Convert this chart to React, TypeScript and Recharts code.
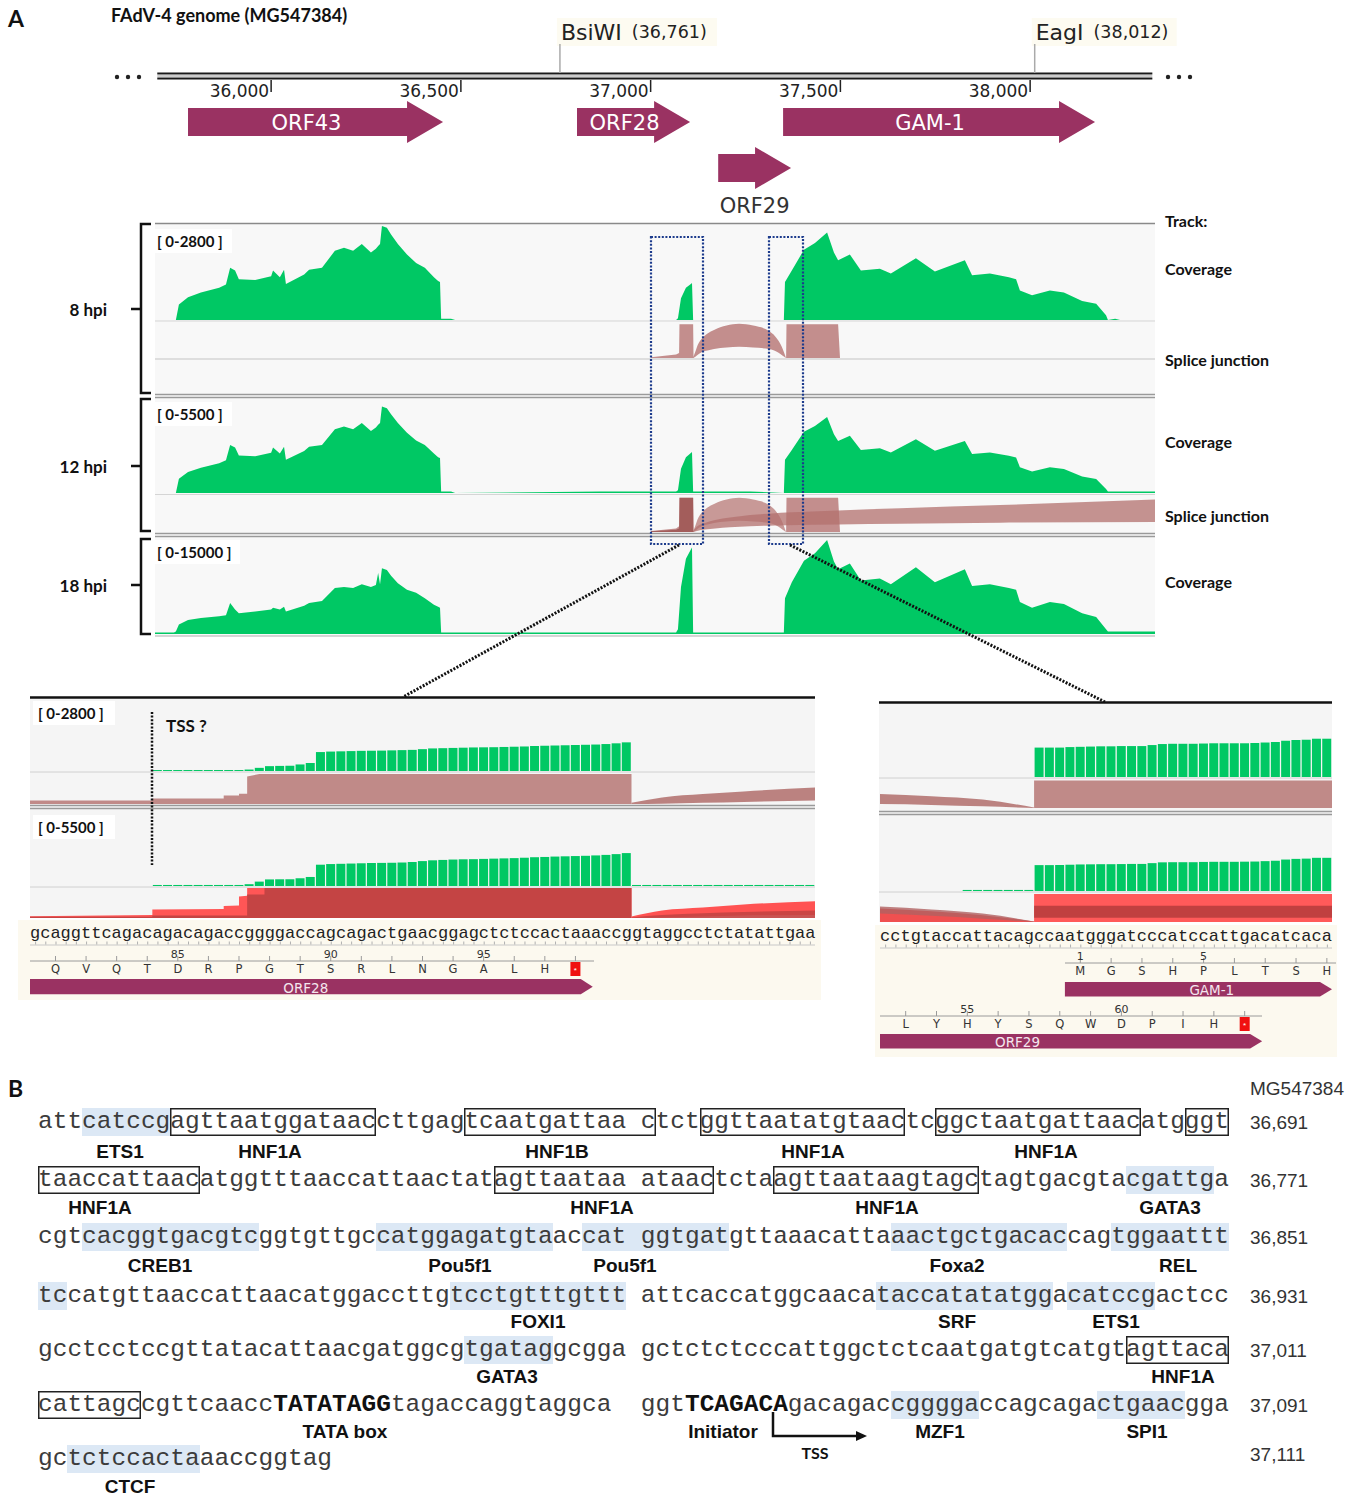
import React from 'react';
import { AreaChart, Area, BarChart, Bar, ComposedChart, XAxis, YAxis } from 'recharts';

const LATO = 'Lato, "Open Sans", sans-serif';
const ARIAL = '"Liberation Sans", Arial, sans-serif';
const VERDANA = '"DejaVu Sans", Verdana, sans-serif';
const MONO = '"Liberation Mono", "Courier New", monospace';
const GREEN = '#00c864';
const ORF_COLOR = '#9a3262';
const SJ_BROWN = '#b3706e';
const HL = '#dce8f5';

// ---------- panel A: genome map ----------
const MAP_DOMAIN: [number, number] = [35694, 38329];
const MAP_TICKS = [36000, 36500, 37000, 37500, 38000];
const SITE_NAMES = ['BsiWI', 'EagI'];
const SITE_POS = [36761, 38012];
const BACKBONE = [35700, 38322];
const MAP_ORF_NAMES = ['ORF43', 'ORF28', 'GAM-1', 'ORF29'];
const MAP_ORF_START = [35781, 36806, 37349, 37178];
const MAP_ORF_END = [36453, 37104, 38171, 37370];
const MAP_ORF_LANE = ['a', 'a', 'a', 'b'];

// coverage (reads) at genome positions, per time point
const COV_POS = [
  35694, 35744, 35749, 35757, 35781, 35815, 35863, 35881, 35892, 35905,
  35915, 35958, 36000, 36005, 36023, 36034, 36039, 36087, 36100, 36134,
  36168, 36192, 36216, 36239, 36263, 36276, 36282, 36287, 36292, 36305,
  36316, 36334, 36358, 36382, 36405, 36429, 36440, 36445, 36448, 36474,
  36485, 36867, 36972, 37067, 37072, 37080, 37093, 37106, 37109, 37112,
  37130, 37262, 37351, 37354, 37372, 37404, 37433, 37465, 37483, 37494,
  37525, 37554, 37604, 37633, 37699, 37749, 37828, 37847, 37894, 37944,
  37963, 37973, 38005, 38052, 38089, 38137, 38174, 38200, 38205, 38224,
  38237, 38329,
];
const COV_8 = [
  0, 0, 0, 460, 670, 810, 950, 1050, 1540, 1460,
  1200, 1180, 1290, 1460, 1260, 1480, 1060, 1340, 1480, 1540,
  2040, 2130, 2040, 2240, 1990, 2100, 2180, 2240, 2770, 2720,
  2520, 2240, 1930, 1680, 1540, 1260, 1150, 1120, 40, 40,
  0, 0, 0, 0, 50, 640, 950, 1060, 1090, 0,
  0, 0, 0, 1120, 1460, 2070, 2270, 2580, 1990, 1760,
  1930, 1460, 1510, 1370, 1820, 1430, 1760, 1320, 1370, 1260,
  1200, 870, 730, 870, 810, 560, 480, 140, 0, 40,
  0, 0,
];
const COV_12 = [
  0, 0, 0, 850, 1240, 1500, 1760, 1940, 2840, 2690,
  2220, 2170, 2380, 2690, 2330, 2740, 1960, 2480, 2740, 2840,
  3770, 3930, 3770, 4140, 3670, 3880, 4030, 4140, 5120, 5010,
  4650, 4140, 3570, 3100, 2840, 2330, 2120, 2070, 90, 90,
  0, 90, 90, 90, 160, 1430, 2110, 2360, 2420, 90,
  90, 90, 0, 1960, 2550, 3620, 3960, 4500, 3480, 3080,
  3380, 2550, 2640, 2400, 3180, 2500, 3080, 2300, 2400, 2200,
  2100, 1520, 1270, 1520, 1420, 980, 830, 240, 90, 90,
  90, 90,
];
const COV_18 = [
  250, 250, 400, 1500, 2250, 2550, 2850, 3000, 4950, 3900,
  3300, 3600, 3900, 4200, 3900, 4350, 3600, 4500, 4950, 5250,
  7350, 7500, 7350, 7950, 7500, 7800, 9750, 7950, 10500, 10200,
  9300, 8100, 7050, 6600, 5700, 4650, 4350, 4200, 250, 250,
  250, 250, 250, 250, 750, 7500, 12000, 13500, 13800, 250,
  250, 250, 250, 5700, 8250, 11700, 12900, 15000, 11550, 10350,
  11250, 8550, 8850, 7950, 10650, 8250, 10350, 7650, 7950, 7350,
  7050, 5100, 4200, 5100, 4800, 3300, 2700, 750, 400, 400,
  400, 400,
];

// splice junction tracks (fraction of track height)
const SJ_POS = [37001, 37067, 37075, 37076, 37112, 37113, 37357, 37358, 37494, 37499];
const SJ_8 = [0.02, 0.1, 0.14, 0.94, 0.94, 0, 0, 0.94, 0.94, 0];
const SJ_12 = [0.03, 0.1, 0.16, 0.95, 0.95, 0, 0, 0.95, 0.95, 0];
const SJ_12_ORF28 = [0.02, 0.06, 0.1, 0.95, 0.95, 0, 0, 0, 0, 0];
const ARC_POS = [37112, 37117, 37125, 37135, 37150, 37167, 37200, 37233, 37270, 37312, 37336, 37348, 37356];
const ARC_LO = [0, 0.03, 0.1, 0.17, 0.21, 0.25, 0.29, 0.31, 0.29, 0.25, 0.15, 0.06, 0];
const ARC_HI = [0.02, 0.15, 0.38, 0.54, 0.68, 0.78, 0.9, 0.95, 0.9, 0.75, 0.49, 0.25, 0.02];
const LONG_POS = [37112, 37122, 37143, 37170, 37209, 37262, 37328, 37357, 37494, 37657, 37921, 38329];
const LONG_LO = [0, 0.03, 0.07, 0.1, 0.13, 0.16, 0.18, 0.19, 0.21, 0.23, 0.26, 0.28];
const LONG_HI = [0.02, 0.15, 0.25, 0.33, 0.4, 0.47, 0.52, 0.54, 0.6, 0.66, 0.75, 0.9];

// ---------- zoomed views (nucleotide index) ----------
const ZL_SEQ = 'gcaggttcagacagacagaccggggaccagcagactgaacggagctctccactaaaccggtaggcctctatattgaa';
const ZR_SEQ = 'cctgtaccattacagccaatgggatcccatccattgacatcaca';
const ZL_COV8 = [
  0, 0, 0, 0, 0, 0, 0, 0, 0, 0,
  0, 0, 40, 40, 40, 40, 40, 40, 40, 40,
  40, 60, 130, 200, 210, 220, 270, 330, 780, 800,
  810, 820, 830, 835, 840, 850, 860, 870, 900, 930,
  940, 950, 960, 970, 975, 980, 990, 1000, 1010, 1030,
  1040, 1050, 1060, 1070, 1080, 1090, 1110, 1140, 1180, 0,
  0, 0, 0, 0, 0, 0, 0, 0, 0, 0,
  0, 0, 0, 0, 0, 0, 0,
];
const ZL_COV12 = [
  0, 0, 0, 0, 0, 0, 0, 0, 0, 0,
  0, 0, 80, 80, 80, 80, 80, 80, 80, 80,
  80, 140, 340, 510, 520, 530, 600, 700, 1650, 1700,
  1720, 1740, 1760, 1780, 1790, 1800, 1820, 1860, 1930, 1990,
  2020, 2050, 2070, 2080, 2100, 2120, 2140, 2160, 2190, 2230,
  2250, 2280, 2300, 2320, 2340, 2370, 2410, 2470, 2550, 80,
  80, 80, 80, 80, 80, 80, 80, 80, 80, 80,
  80, 80, 80, 80, 80, 80, 80,
];
const ZR_COV8 = [
  0, 0, 0, 0, 0, 0, 0, 0, 0, 0,
  0, 0, 0, 0, 0, 1160, 1160, 1160, 1180, 1190,
  1200, 1210, 1210, 1220, 1220, 1220, 1260, 1300, 1310, 1310,
  1310, 1320, 1330, 1330, 1330, 1330, 1340, 1360, 1380, 1430,
  1460, 1470, 1510, 1510,
];
const ZR_COV12 = [
  0, 0, 0, 0, 0, 0, 0, 0, 80, 80,
  80, 80, 80, 80, 80, 1950, 1950, 1960, 1980, 2000,
  2010, 2020, 2020, 2030, 2040, 2040, 2100, 2160, 2170, 2170,
  2170, 2190, 2200, 2200, 2200, 2210, 2220, 2250, 2280, 2370,
  2420, 2440, 2500, 2500,
];
const ZL_SJ_X = [0, 12, 12, 19, 19, 20.5, 20.5, 21.3, 21.3, 22.5, 59, 59];
const ZL_SJ8 = [0.12, 0.12, 0.18, 0.18, 0.28, 0.28, 0.34, 0.34, 0.92, 1.0, 1.0, 0];
const ZL_SJ12_RED = [0.06, 0.1, 0.28, 0.3, 0.4, 0.42, 0.72, 0.74, 1.0, 1.0, 1.0, 0];
const ZL_SJ12_DARK_X = [0, 12, 12, 21.3, 21.3, 23, 23, 59, 59];
const ZL_SJ12_DARK = [0.04, 0.04, 0.08, 0.08, 0.78, 0.78, 1.0, 1.0, 0];
const ZL_TAIL_X = [59, 62, 66, 70, 77];
const ZL_TAIL8_LO = [0, 0.01, 0.04, 0.07, 0.12];
const ZL_TAIL8_HI = [0.04, 0.22, 0.33, 0.42, 0.55];
const ZL_TAIL12_LO = [0, 0.02, 0.05, 0.08, 0.1];
const ZL_TAIL12_HI = [0.05, 0.25, 0.35, 0.45, 0.56];
const ZL_TAIL12_DARK_LO = [0, 0, 0, 0, 0];
const ZL_TAIL12_DARK_HI = [0.02, 0.1, 0.16, 0.2, 0.25];
const ZR_WEDGE_X = [0, 5, 10, 15];
const ZR_WEDGE8_LO = [0.14, 0.11, 0.06, 0];
const ZR_WEDGE8_HI = [0.5, 0.42, 0.3, 0.02];
const ZR_WEDGE12_RED = [0.48, 0.38, 0.24, 0.02];
const ZR_WEDGE12_LO = [0.3, 0.22, 0.12, 0];
const ZR_WEDGE12_HI = [0.55, 0.45, 0.3, 0.02];
const ZR_BLOCK_X = [15, 15, 44];
const ZR_BLOCK8 = [0, 0.98, 0.98];
const ZR_BLOCK12 = [0, 1, 1];
const ZR_BAND_X = [15, 44];
const ZR_BAND_LO = [0.15, 0.15];
const ZR_BAND_HI = [0.58, 0.58];

const ZOOM_ORF_NAMES = ['ORF28', 'GAM-1', 'ORF29'];
const ZOOM_ORF_START = [0, 18, 0];
const ZOOM_ORF_END = [55.2, 48, 37.2];
const ZOOM_LABEL_POS: Record<string, number> = { ORF28: 0.49, 'GAM-1': 0.55, ORF29: 0.36 };
const AA_ORF28 = ['Q', 'V', 'Q', 'T', 'D', 'R', 'P', 'G', 'T', 'S', 'R', 'L', 'N', 'G', 'A', 'L', 'H', '*'];
const AA_GAM1 = ['M', 'G', 'S', 'H', 'P', 'L', 'T', 'S', 'H'];
const AA_ORF29 = ['L', 'Y', 'H', 'Y', 'S', 'Q', 'W', 'D', 'P', 'I', 'H', '*'];

// ---------- panel B ----------
const B_LINES = [
  'att[catccg]{agttaatggataac}cttgag{tcaatgattaa c}tct{ggttaatatgtaac}tc{ggctaatgattaac}atg{ggt}',
  '{taaccattaac}atggtttaaccattaactat{agttaataa ataac}tcta{agttaataagtagc}tagtgacgta[cgattg]a',
  'cgt[cacggtgacgtc]ggtgttgc[catggagatgta]ac[cat ggtgat]gttaaacatta[aactgctgacac]cag[tggaattt]',
  '[tc]catgttaaccattaacatggaccttg[tcctgtttgttt] attcaccatggcaaca[taccatatatgg]a[catccg]actcc',
  'gcctcctccgttatacattaacgatggcg[tgatag]gcgga gctctctcccattggctctcaatgatgtcatgt{agttaca}',
  '{cattagc}cgttcaacc<TATATAGG>tagaccaggtaggca  ggt<TCAGACA>gacagac[cgggga]ccagcaga[ctgaac]gga',
  'gc[tctccacta]aaccggtag',
];
const B_COORDS = ['36,691', '36,771', '36,851', '36,931', '37,011', '37,091', '37,111'];
const B_LABELS: [number, number, string][] = [
  [0, 120, 'ETS1'], [0, 270, 'HNF1A'], [0, 557, 'HNF1B'], [0, 813, 'HNF1A'], [0, 1046, 'HNF1A'],
  [1, 100, 'HNF1A'], [1, 602, 'HNF1A'], [1, 887, 'HNF1A'], [1, 1170, 'GATA3'],
  [2, 160, 'CREB1'], [2, 460, 'Pou5f1'], [2, 625, 'Pou5f1'], [2, 957, 'Foxa2'], [2, 1178, 'REL'],
  [3, 538, 'FOXI1'], [3, 957, 'SRF'], [3, 1116, 'ETS1'],
  [4, 507, 'GATA3'], [4, 1183, 'HNF1A'],
  [5, 345, 'TATA box'], [5, 723, 'Initiator'], [5, 940, 'MZF1'], [5, 1147, 'SPI1'],
  [6, 130, 'CTCF'],
];
const B_LINE_Y = [1122, 1180, 1237, 1296, 1350, 1405, 1459];
const B_LABEL_Y = [1151, 1207, 1265, 1321, 1376, 1431, 1486];

// ---------- helpers ----------
const pts = (xs: number[], ys: number[]) => xs.map((x, i) => ({ x, v: ys[i] }));
const rng = (xs: number[], lo: number[], hi: number[]) => xs.map((x, i) => ({ x, v: [lo[i], hi[i]] }));

function buildLane(lane: string, names: string[], starts: number[], ends: number[]) {
  const row: Record<string, any> = { lane };
  let prev = 0;
  for (let k = 0; k < 3; k++) {
    if (k < names.length) {
      row['g' + k] = starts[k] - prev;
      row['o' + k] = ends[k] - starts[k];
      row['n' + k] = names[k];
      prev = ends[k];
    } else {
      row['g' + k] = 0;
      row['o' + k] = 0;
      row['n' + k] = '';
    }
  }
  return row;
}

function laneOf(l: string) {
  const idx = MAP_ORF_LANE.map((v, i) => (v === l ? i : -1)).filter((i) => i >= 0);
  return buildLane(l, idx.map((i) => MAP_ORF_NAMES[i]), idx.map((i) => MAP_ORF_START[i]), idx.map((i) => MAP_ORF_END[i]));
}

const MAP_LANES = [buildLane('bb', ['backbone'], [BACKBONE[0]], [BACKBONE[1]]), laneOf('a'), laneOf('b')];

const emptyShape = () => <g />;

function mapOrfShape(p: any, k: number) {
  const row = p.payload || p;
  const name = row['n' + k];
  const { x, y, width: w, height: h } = p;
  if (!name || !(w > 0)) return <g />;
  const cy = y + h / 2;
  if (name === 'backbone') {
    return (
      <g>
        <line x1={x} x2={x + w} y1={cy - 2.5} y2={cy - 2.5} stroke="#1a1a1a" strokeWidth={2} />
        <line x1={x} x2={x + w} y1={cy} y2={cy} stroke="#9a9a9a" strokeWidth={1.2} />
        <line x1={x} x2={x + w} y1={cy + 2.5} y2={cy + 2.5} stroke="#1a1a1a" strokeWidth={2} />
      </g>
    );
  }
  const head = 36;
  const bh = 14;
  const hx = x + w - head;
  const d = `M${x},${cy - bh}H${hx}V${y}L${x + w},${cy}L${hx},${y + h}V${cy + bh}H${x}Z`;
  const below = row.lane === 'b';
  return (
    <g>
      <path d={d} fill={ORF_COLOR} />
      <text
        x={below ? x + w / 2 : x + (w - head / 2) / 2}
        y={below ? y + h + 17 : cy + 1}
        textAnchor="middle"
        dominantBaseline="central"
        fontFamily={VERDANA}
        fontSize={21}
        fill={below ? '#333' : '#fff'}
      >
        {name}
      </text>
    </g>
  );
}

const genomeTick = (p: any) => (
  <g>
    <line x1={p.x} x2={p.x} y1={80} y2={92} stroke="#222" strokeWidth={1.5} />
    <text x={p.x - 2} y={91} textAnchor="end" dominantBaseline="central" fontFamily={VERDANA} fontSize={17} fill="#222">
      {Number(p.payload.value).toLocaleString('en-US')}
    </text>
  </g>
);

const siteTick = (p: any) => {
  const v = Number(p.payload.value);
  const i = SITE_POS.indexOf(v);
  return (
    <g>
      <rect x={p.x - 3} y={18} width={i === 0 ? 160 : 145} height={28} fill="#fdfbf1" />
      <line x1={p.x} x2={p.x} y1={44} y2={73} stroke="#aaa" strokeWidth={1.5} />
      <text x={p.x + 1} y={32} dominantBaseline="central" fontFamily={VERDANA} fontSize={22} fill="#222">
        {SITE_NAMES[i]}
        <tspan fontSize={17.5} dx={10}>({v.toLocaleString('en-US')})</tspan>
      </text>
    </g>
  );
};

function GenomeMap() {
  return (
    <div style={{ position: 'absolute', left: 100, top: 0 }}>
      <ComposedChart layout="vertical" width={1160} height={222} data={MAP_LANES} margin={{ top: 13, right: 105, bottom: 31, left: 55 }} barSize={42}>
        <XAxis xAxisId="g" type="number" domain={MAP_DOMAIN} allowDataOverflow orientation="top" height={20} ticks={MAP_TICKS} interval={0} axisLine={false} tickLine={false} tick={genomeTick} />
        <XAxis xAxisId="s" type="number" domain={MAP_DOMAIN} allowDataOverflow orientation="top" height={20} ticks={SITE_POS} interval={0} axisLine={false} tickLine={false} tick={siteTick} />
        <YAxis type="category" dataKey="lane" hide />
        {[0, 1, 2].map((k) => [
          <Bar key={`g${k}`} xAxisId="g" dataKey={`g${k}`} stackId="m" shape={emptyShape} isAnimationActive={false} />,
          <Bar key={`o${k}`} xAxisId="g" dataKey={`o${k}`} stackId="m" shape={(p: any) => mapOrfShape(p, k)} isAnimationActive={false} />,
        ])}
      </ComposedChart>
    </div>
  );
}

function zoomOrfShape(p: any) {
  const row = p.payload || p;
  const name = row.n0;
  const { x, y, width: w, height: h } = p;
  if (!name || !(w > 0)) return <g />;
  const tip = 12;
  const d = `M${x},${y}H${x + w - tip}L${x + w},${y + h / 2}L${x + w - tip},${y + h}H${x}Z`;
  return (
    <g>
      <path d={d} fill={ORF_COLOR} />
      <text x={x + w * (ZOOM_LABEL_POS[name] ?? 0.5)} y={y + h / 2 + 1} textAnchor="middle" dominantBaseline="central" fontFamily={VERDANA} fontSize={13.5} fill="#f4e6ee">
        {name}
      </text>
    </g>
  );
}

function ZoomOrf({ x, y, w, h, domain, idx }: any) {
  const data = [buildLane('z', [ZOOM_ORF_NAMES[idx]], [ZOOM_ORF_START[idx]], [ZOOM_ORF_END[idx]])];
  return (
    <div style={{ position: 'absolute', left: x, top: y }}>
      <ComposedChart layout="vertical" width={w} height={h} data={data} margin={{ top: 0, right: 0, bottom: 0, left: 0 }} barSize={h}>
        <XAxis type="number" domain={domain} allowDataOverflow hide />
        <YAxis type="category" dataKey="lane" hide />
        <Bar dataKey="g0" stackId="z" shape={emptyShape} isAnimationActive={false} />
        <Bar dataKey="o0" stackId="z" shape={zoomOrfShape} isAnimationActive={false} />
      </ComposedChart>
    </div>
  );
}

function AreaLayer({ x, y, w, h, domain, yMax, data, fill, opacity = 1, curve = 'linear' }: any) {
  return (
    <div style={{ position: 'absolute', left: x, top: y }}>
      <AreaChart width={w} height={h} data={data} margin={{ top: 0, right: 0, bottom: 0, left: 0 }}>
        <XAxis type="number" dataKey="x" domain={domain} hide allowDataOverflow />
        <YAxis type="number" domain={[0, yMax]} hide allowDataOverflow />
        <Area dataKey="v" type={curve} fill={fill} fillOpacity={opacity} stroke="none" isAnimationActive={false} dot={false} activeDot={false} />
      </AreaChart>
    </div>
  );
}

function BarLayer({ x, y, w, h, values, yMax }: any) {
  const data = values.map((v: number, i: number) => ({ i, v }));
  return (
    <div style={{ position: 'absolute', left: x, top: y }}>
      <BarChart width={w} height={h} data={data} margin={{ top: 0, right: 0, bottom: 0, left: 0 }} barCategoryGap={0.5}>
        <XAxis dataKey="i" type="category" hide />
        <YAxis type="number" domain={[0, yMax]} hide allowDataOverflow />
        <Bar dataKey="v" fill={GREEN} isAnimationActive={false} />
      </BarChart>
    </div>
  );
}

function Residues({ left, step, startIdx, aa, firstNum, numY, lineY, aaY, from, to }: any) {
  return (
    <g>
      <line x1={from} x2={to} y1={lineY} y2={lineY} stroke="#9a9a9a" strokeWidth={1} />
      {aa.map((a: string, i: number) => {
        const cx = left + (startIdx + 3 * i + 1.5) * step;
        const n = firstNum + i;
        return (
          <g key={i}>
            <line x1={cx} x2={cx} y1={lineY - 5} y2={lineY} stroke="#9a9a9a" strokeWidth={1} />
            {a !== '*' && (n === 1 || n % 5 === 0) && (
              <text x={cx} y={numY} textAnchor="middle" dominantBaseline="central" fontFamily={VERDANA} fontSize={11} fill="#333">{n}</text>
            )}
            {a === '*' ? (
              <g>
                <rect x={cx - 5} y={aaY - 7} width={10} height={14} fill="#f01010" />
                <text x={cx} y={aaY + 1} textAnchor="middle" dominantBaseline="central" fontSize={8} fill="#fff">*</text>
              </g>
            ) : (
              <text x={cx} y={aaY} textAnchor="middle" dominantBaseline="central" fontFamily={VERDANA} fontSize={11.5} fill="#333">{a}</text>
            )}
          </g>
        );
      })}
    </g>
  );
}

function parseSeq(s: string) {
  const out: { t: string; k: string }[] = [];
  const open: Record<string, string> = { '[': 'h', '{': 'b', '<': 'B' };
  let cur = '';
  let k = 'n';
  for (const ch of s) {
    if (open[ch]) {
      if (cur) out.push({ t: cur, k });
      cur = '';
      k = open[ch];
    } else if (ch === ']' || ch === '}' || ch === '>') {
      if (cur) out.push({ t: cur, k });
      cur = '';
      k = 'n';
    } else cur += ch;
  }
  if (cur) out.push({ t: cur, k });
  return out;
}

function Background() {
  const hl = (y: number, x1: number, x2: number, c: string, sw = 1) => (
    <line key={`${y}-${x1}`} x1={x1} x2={x2} y1={y} y2={y} stroke={c} strokeWidth={sw} />
  );
  return (
    <svg width={1361} height={1496} style={{ position: 'absolute', left: 0, top: 0 }}>
      <rect x={155} y={224} width={1000} height={412} fill="#f8f8f8" />
      <rect x={30} y={699} width={785} height={219} fill="#f5f5f5" />
      <rect x={879} y={704} width={453} height={218} fill="#f5f5f5" />
      <rect x={18} y={920} width={803} height={80} fill="#fcf9ef" />
      <rect x={875} y={925} width={462} height={132} fill="#fcf9ef" />
      {hl(223.5, 155, 1155, '#8a8a8a', 1.5)}
      {hl(321, 155, 1155, '#d5d5d5')}
      {hl(359, 155, 1155, '#c4c4c4')}
      {hl(394.5, 155, 1155, '#9a9a9a', 1.5)}
      {hl(397.5, 155, 1155, '#9a9a9a', 1.5)}
      {hl(494.5, 155, 1155, '#d5d5d5')}
      {hl(533.5, 155, 1155, '#9a9a9a', 1.5)}
      {hl(536.5, 155, 1155, '#9a9a9a', 1.5)}
      {hl(636, 155, 1155, '#c8c8c8', 1.5)}
      {hl(772, 30, 815, '#d0d0d0')}
      {hl(805.5, 30, 815, '#9a9a9a', 1.5)}
      {hl(808.5, 30, 815, '#9a9a9a', 1.5)}
      {hl(887, 30, 815, '#d0d0d0')}
      {hl(778, 879, 1332, '#d0d0d0')}
      {hl(811.5, 879, 1332, '#9a9a9a', 1.5)}
      {hl(814.5, 879, 1332, '#9a9a9a', 1.5)}
      {hl(892, 879, 1332, '#d0d0d0')}
    </svg>
  );
}

function ScaleTag({ x, y, w, t }: any) {
  return (
    <g>
      <rect x={x} y={y - 12} width={w} height={24} fill="#fff" />
      <text x={x + 5} y={y} dominantBaseline="central" fontFamily={LATO} fontWeight={700} fontSize={15} fill="#111">{t}</text>
    </g>
  );
}

function Foreground() {
  const brackets: [number, number, number, string][] = [
    [224, 393, 309, '8 hpi'],
    [399, 531, 466, '12 hpi'],
    [539, 634, 585, '18 hpi'],
  ];
  const trackLabels: [number, string][] = [
    [220, 'Track:'], [268, 'Coverage'], [359, 'Splice junction'], [441, 'Coverage'], [515, 'Splice junction'], [581, 'Coverage'],
  ];
  const stepL = 785 / 77;
  const stepR = 452 / 44;
  return (
    <svg width={1361} height={1496} style={{ position: 'absolute', left: 0, top: 0, pointerEvents: 'none' }}>
      <text x={8} y={18} dominantBaseline="central" fontFamily={LATO} fontWeight={700} fontSize={23} fill="#111">A</text>
      <text x={111} y={15} dominantBaseline="central" fontFamily={LATO} fontWeight={700} fontSize={18} fill="#111">FAdV-4 genome (MG547384)</text>
      {[117, 128, 139, 1168, 1179, 1190].map((cx) => (
        <circle key={cx} cx={cx} cy={77} r={2.2} fill="#222" />
      ))}
      {trackLabels.map(([y, t]) => (
        <text key={`${y}`} x={1165} y={y} dominantBaseline="central" fontFamily={LATO} fontWeight={700} fontSize={16} fill="#111">{t}</text>
      ))}
      <ScaleTag x={152} y={241} w={80} t="[ 0-2800 ]" />
      <ScaleTag x={152} y={414} w={80} t="[ 0-5500 ]" />
      <ScaleTag x={152} y={552} w={88} t="[ 0-15000 ]" />
      {brackets.map(([y1, y2, ym, t]) => (
        <g key={t}>
          <path d={`M151,${y1} H141 V${y2} H151 M141,${ym} H131`} fill="none" stroke="#111" strokeWidth={2.5} />
          <text x={107} y={ym} textAnchor="end" dominantBaseline="central" fontFamily={LATO} fontWeight={700} fontSize={17} fill="#111">{t}</text>
        </g>
      ))}
      <rect x={651} y={237} width={52} height={307} fill="none" stroke="#1c3b8c" strokeWidth={2.2} strokeDasharray="2 1.6" />
      <rect x={769} y={237} width={34} height={307} fill="none" stroke="#1c3b8c" strokeWidth={2.2} strokeDasharray="2 1.6" />
      <line x1={679} y1={545} x2={403} y2={697} stroke="#111" strokeWidth={3} strokeDasharray="2 1.5" />
      <line x1={790} y1={545} x2={1105} y2={702} stroke="#111" strokeWidth={3} strokeDasharray="2 1.5" />
      <line x1={30} x2={815} y1={697.5} y2={697.5} stroke="#111" strokeWidth={2.5} />
      <line x1={879} x2={1332} y1={702.5} y2={702.5} stroke="#111" strokeWidth={2.5} />
      <ScaleTag x={33} y={713} w={82} t="[ 0-2800 ]" />
      <ScaleTag x={33} y={827} w={82} t="[ 0-5500 ]" />
      <line x1={152} x2={152} y1={712} y2={865} stroke="#111" strokeWidth={2.5} strokeDasharray="2 1.6" />
      <text x={166} y={725} dominantBaseline="central" fontFamily={LATO} fontWeight={700} fontSize={17} fill="#111">TSS ?</text>
      <line x1={30} x2={815} y1={945} y2={945} stroke="#c8c8c8" strokeWidth={1} />
      <line x1={30} x2={815} y1={943} y2={943} stroke="#b0b0b0" strokeWidth={3} strokeDasharray={`1 ${stepL - 1}`} strokeDashoffset={-stepL / 2} />
      <line x1={880} x2={1332} y1={948} y2={948} stroke="#c8c8c8" strokeWidth={1} />
      <line x1={880} x2={1332} y1={946} y2={946} stroke="#b0b0b0" strokeWidth={3} strokeDasharray={`1 ${stepR - 1}`} strokeDashoffset={-stepR / 2} />
      <Residues left={30} step={stepL} startIdx={1} aa={AA_ORF28} firstNum={81} numY={954} lineY={961} aaY={969} from={30} to={594} />
      <Residues left={880} step={stepR} startIdx={18} aa={AA_GAM1} firstNum={1} numY={956} lineY={963} aaY={971} from={1065} to={1336} />
      <Residues left={880} step={stepR} startIdx={1} aa={AA_ORF29} firstNum={53} numY={1009} lineY={1016} aaY={1024} from={880} to={1262} />

      <text x={8} y={1088} dominantBaseline="central" fontFamily={LATO} fontWeight={700} fontSize={23} fill="#111">B</text>
      <text x={1250} y={1088} dominantBaseline="central" fontFamily={ARIAL} fontSize={19} fill="#333">MG547384</text>
      {B_COORDS.map((c, i) => (
        <text key={c} x={1250} y={i === 6 ? 1454 : B_LINE_Y[i]} dominantBaseline="central" fontFamily={ARIAL} fontSize={19} fill="#333">{c}</text>
      ))}
      {B_LABELS.map(([line, x, t], i) => (
        <text key={i} x={x} y={B_LABEL_Y[line]} textAnchor="middle" dominantBaseline="central" fontFamily={ARIAL} fontWeight={700} fontSize={19} fill="#111">{t}</text>
      ))}
      <path d="M773,1412 V1436 H857" fill="none" stroke="#111" strokeWidth={2.5} />
      <polygon points="856,1431 867,1436 856,1441" fill="#111" />
      <text x={815} y={1452} textAnchor="middle" dominantBaseline="central" fontFamily={LATO} fontWeight={700} fontSize={16} fill="#111">TSS</text>
    </svg>
  );
}

function SeqLine({ markup, y }: { markup: string; y: number }) {
  const segs = parseSeq(markup);
  return (
    <div style={{ position: 'absolute', left: 38, top: y - 14, height: 28, whiteSpace: 'pre', fontFamily: MONO, fontSize: 24.5, lineHeight: '28px', color: '#3c3c3c' }}>
      {segs.map((s, i) => (
        <span
          key={i}
          style={{
            display: 'inline-block',
            height: 28,
            verticalAlign: 'top',
            background: s.k === 'h' ? HL : undefined,
            boxShadow: s.k === 'b' ? 'inset 0 0 0 1.5px #222' : undefined,
            fontWeight: s.k === 'B' ? 700 : 400,
            color: s.k === 'B' ? '#111' : undefined,
          }}
        >
          {s.t}
        </span>
      ))}
    </div>
  );
}

export default function App() {
  const sj = (x: number, y: number, h: number, data: any, fill: string, opacity = 0.78, curve = 'linear') => (
    <AreaLayer x={x} y={y} w={1000} h={h} domain={MAP_DOMAIN} yMax={1} data={data} fill={fill} opacity={opacity} curve={curve} />
  );
  const zl = (y: number, h: number, data: any, fill: string, opacity = 1, curve = 'linear') => (
    <AreaLayer x={30} y={y} w={785} h={h} domain={[0, 77]} yMax={1} data={data} fill={fill} opacity={opacity} curve={curve} />
  );
  const zr = (y: number, h: number, data: any, fill: string, opacity = 1, curve = 'linear') => (
    <AreaLayer x={880} y={y} w={452} h={h} domain={[0, 44]} yMax={1} data={data} fill={fill} opacity={opacity} curve={curve} />
  );
  return (
    <div style={{ position: 'absolute', left: 0, top: 0, width: 1361, height: 1496, background: '#fff', overflow: 'hidden', fontFamily: ARIAL }}>
      <Background />
      <GenomeMap />

      {/* genome coverage + splice tracks */}
      <AreaLayer x={155} y={225} w={1000} h={95} domain={MAP_DOMAIN} yMax={2800} data={pts(COV_POS, COV_8)} fill={GREEN} />
      {sj(155, 322, 36, pts(SJ_POS, SJ_8), SJ_BROWN)}
      {sj(155, 322, 36, rng(ARC_POS, ARC_LO, ARC_HI), SJ_BROWN, 0.78, 'monotone')}
      <AreaLayer x={155} y={400} w={1000} h={93} domain={MAP_DOMAIN} yMax={5500} data={pts(COV_POS, COV_12)} fill={GREEN} />
      {sj(155, 496, 36, pts(SJ_POS, SJ_12), SJ_BROWN)}
      {sj(155, 496, 36, pts(SJ_POS, SJ_12_ORF28), '#8e3c3a', 0.6)}
      {sj(155, 496, 36, rng(ARC_POS, ARC_LO, ARC_HI), SJ_BROWN, 0.7, 'monotone')}
      {sj(155, 496, 36, rng(LONG_POS, LONG_LO, LONG_HI), SJ_BROWN, 0.75, 'monotone')}
      <AreaLayer x={155} y={540} w={1000} h={94} domain={MAP_DOMAIN} yMax={15000} data={pts(COV_POS, COV_18)} fill={GREEN} />

      {/* left zoom */}
      <BarLayer x={30} y={703} w={785} h={68} values={ZL_COV8} yMax={2800} />
      {zl(774, 30, pts(ZL_SJ_X, ZL_SJ8), '#c08a88')}
      {zl(774, 30, rng(ZL_TAIL_X, ZL_TAIL8_LO, ZL_TAIL8_HI), '#b57573', 0.9, 'monotone')}
      <BarLayer x={30} y={815} w={785} h={71} values={ZL_COV12} yMax={5500} />
      {zl(888, 30, pts(ZL_SJ_X, ZL_SJ12_RED), '#ff5656')}
      {zl(888, 30, pts(ZL_SJ12_DARK_X, ZL_SJ12_DARK), '#c44444')}
      {zl(888, 30, rng(ZL_TAIL_X, ZL_TAIL12_LO, ZL_TAIL12_HI), '#ff5252', 1, 'monotone')}
      {zl(888, 30, rng(ZL_TAIL_X, ZL_TAIL12_DARK_LO, ZL_TAIL12_DARK_HI), '#c44444', 0.9, 'monotone')}

      {/* right zoom */}
      <BarLayer x={880} y={706} w={452} h={71} values={ZR_COV8} yMax={2800} />
      {zr(780, 28, rng(ZR_WEDGE_X, ZR_WEDGE8_LO, ZR_WEDGE8_HI), '#b57573', 0.9, 'monotone')}
      {zr(780, 28, pts(ZR_BLOCK_X, ZR_BLOCK8), '#c08a88')}
      <BarLayer x={880} y={818} w={452} h={73} values={ZR_COV12} yMax={5500} />
      {zr(894, 28, pts(ZR_WEDGE_X, ZR_WEDGE12_RED), '#f05050', 1, 'monotone')}
      {zr(894, 28, rng(ZR_WEDGE_X, ZR_WEDGE12_LO, ZR_WEDGE12_HI), '#b06262', 0.8, 'monotone')}
      {zr(894, 28, pts(ZR_BLOCK_X, ZR_BLOCK12), '#ff5a5a')}
      {zr(894, 28, rng(ZR_BAND_X, ZR_BAND_LO, ZR_BAND_HI), '#b53c3c', 0.85)}

      <ZoomOrf x={30} y={978} w={785} h={17} domain={[0, 77]} idx={0} />
      <ZoomOrf x={880} y={981} w={452} h={16} domain={[0, 44]} idx={1} />
      <ZoomOrf x={880} y={1033} w={452} h={16} domain={[0, 44]} idx={2} />

      <div style={{ position: 'absolute', left: 30, top: 922, fontFamily: MONO, fontSize: 17, lineHeight: '24px', color: '#222', whiteSpace: 'pre' }}>{ZL_SEQ}</div>
      <div style={{ position: 'absolute', left: 880, top: 925, fontFamily: MONO, fontSize: 17, lineHeight: '24px', letterSpacing: 0.07, color: '#222', whiteSpace: 'pre' }}>{ZR_SEQ}</div>

      {B_LINES.map((m, i) => (
        <SeqLine key={i} markup={m} y={B_LINE_Y[i]} />
      ))}

      <Foreground />
    </div>
  );
}
